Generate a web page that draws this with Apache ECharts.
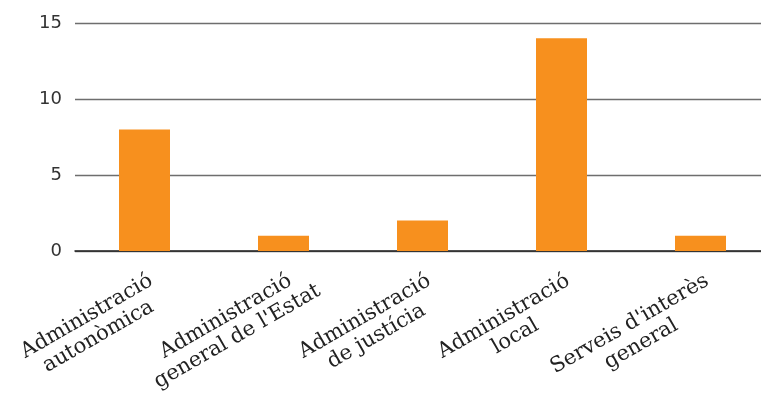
<!DOCTYPE html>
<html>
<head>
<meta charset="utf-8">
<style>
  html, body { margin: 0; padding: 0; background: #fff; }
  #chart { width: 761px; height: 394px; }
</style>
<script src="https://cdn.jsdelivr.net/npm/echarts@6/dist/echarts.min.js"></script>
</head>
<body>
<div id="chart"></div>
<script>
// Categories (two-line labels) and values
const categories = [
  'Administració\nautonòmica',
  'Administració\ngeneral de l\'Estat',
  'Administració\nde justícia',
  'Administració\nlocal',
  'Serveis d\'interès\ngeneral'
];
const values = [8, 1, 2, 14, 1];
const yTicks = [0, 5, 10, 15];

const labelFont = 'DejaVu Serif';
const labelSize = 21;

// Lines of each label are centred on each other, and the first line ends at the tick.
// A right padding equal to the first line's width moves the centred block so that
// its first line finishes at the label anchor.
const measure = document.createElement('canvas').getContext('2d');
measure.font = labelSize + 'px "' + labelFont + '"';
const rich = {};
categories.forEach((c, i) => {
  const first = c.split('\n')[0];
  const w1 = measure.measureText(first).width;
  rich['l' + i] = {
    align: 'center',
    fontFamily: labelFont,
    fontSize: labelSize,
    lineHeight: 23,
    color: '#222',
    padding: [0, Math.max(0, w1 - 2), 0, 0]
  };
});

const chart = echarts.init(document.getElementById('chart'), null, { renderer: 'canvas' });
chart.setOption({
  animation: false,
  // the plot runs a little past the right edge of the canvas
  grid: {
    left: 75, width: 695, top: 23, bottom: 143,
    containLabel: false,
    outerBoundsMode: 'none'
  },
  xAxis: {
    type: 'category',
    data: categories,
    axisTick: { show: false },
    axisLine: { show: true, lineStyle: { color: '#222', width: 1.5 } },
    axisLabel: {
      interval: 0,
      rotate: 30,
      margin: 19,
      align: 'center',
      verticalAlign: 'top',
      formatter: (v, idx) => v.split('\n').map(s => '{l' + idx + '|' + s + '}').join('\n'),
      rich: rich
    }
  },
  yAxis: {
    type: 'value',
    min: yTicks[0],
    max: yTicks[yTicks.length - 1],
    interval: 5,
    axisLine: { show: false },
    axisTick: { show: false },
    splitLine: { lineStyle: { color: '#6e6e6e', width: 1.3 } },
    axisLabel: {
      margin: 13,
      fontFamily: 'DejaVu Sans',
      fontSize: 18,
      color: '#333'
    }
  },
  series: [{
    type: 'bar',
    data: values,
    barWidth: 51,
    itemStyle: { color: '#F7901E' }
  }]
});
</script>
</body>
</html>
